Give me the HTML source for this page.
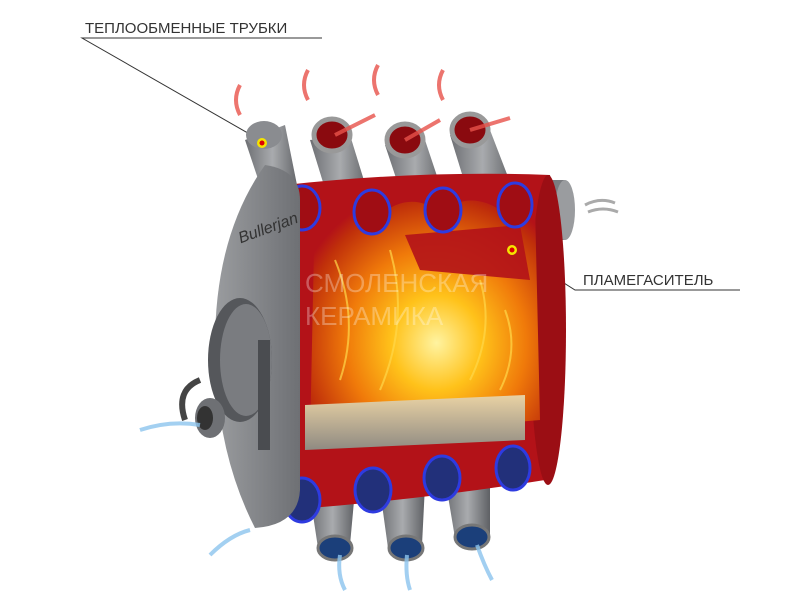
<!DOCTYPE html>
<html><head><meta charset="utf-8"><style>
html,body{margin:0;padding:0;background:#fff;}
svg{display:block}
text{font-family:"Liberation Sans",sans-serif;}
</style></head><body>
<svg width="800" height="600" viewBox="0 0 800 600" xmlns="http://www.w3.org/2000/svg">
<defs>
<linearGradient id="grey" x1="0" y1="0" x2="1" y2="0">
<stop offset="0" stop-color="#6d6f73"/><stop offset="0.5" stop-color="#a9abae"/><stop offset="1" stop-color="#5e6064"/>
</linearGradient>
<linearGradient id="plate" x1="0" y1="0" x2="1" y2="0">
<stop offset="0" stop-color="#9a9c9f"/><stop offset="1" stop-color="#6e7074"/>
</linearGradient>
<radialGradient id="fire" cx="0.55" cy="0.6" r="0.65">
<stop offset="0" stop-color="#fff3a0"/><stop offset="0.3" stop-color="#ffc21a"/><stop offset="0.6" stop-color="#f07a0a"/><stop offset="0.9" stop-color="#c0300a"/><stop offset="1" stop-color="#b31218"/>
</radialGradient>
<linearGradient id="wood" x1="0" y1="0" x2="0" y2="1">
<stop offset="0" stop-color="#e9d2a4"/><stop offset="1" stop-color="#8f8a82"/>
</linearGradient>
</defs>

<text x="85" y="33" font-size="15" fill="#333">ТЕПЛООБМЕННЫЕ ТРУБКИ</text>
<polyline points="322,38 82,38 260,140" fill="none" stroke="#333" stroke-width="1"/>
<text x="583" y="285" font-size="15" fill="#333">ПЛАМЕГАСИТЕЛЬ</text>
<polyline points="512,250 575,290 740,290" fill="none" stroke="#333" stroke-width="1"/>

<rect x="540" y="180" width="25" height="60" fill="#7a7c80"/>
<ellipse cx="565" cy="210" rx="10" ry="30" fill="#9a9c9f"/>
<path d="M585 205 q15 -8 30 -2 M588 212 q15 -6 30 0" stroke="#aaa" stroke-width="3" fill="none"/>

<g fill="url(#grey)">
<path d="M245 140 L285 125 L300 200 L270 215 Z"/>
<path d="M310 140 L350 135 L370 200 L330 205 Z"/>
<path d="M385 145 L425 140 L445 200 L405 205 Z"/>
<path d="M450 135 L490 130 L515 195 L470 200 Z"/>
</g>
<ellipse cx="264" cy="135" rx="18" ry="14" fill="#8a8c90"/>
<circle cx="262" cy="143" r="5" fill="#f5e400"/><circle cx="262" cy="143" r="2.5" fill="#d00"/>
<g stroke="#999" stroke-width="5" fill="#8a0a0f">
<ellipse cx="332" cy="135" rx="18" ry="16"/>
<ellipse cx="405" cy="140" rx="18" ry="16"/>
<ellipse cx="470" cy="130" rx="18" ry="16"/>
</g>

<g fill="url(#grey)">
<path d="M310 495 L355 490 L350 545 L318 548 Z"/>
<path d="M380 490 L425 485 L422 545 L388 548 Z"/>
<path d="M445 478 L490 472 L490 535 L455 538 Z"/>
</g>
<g fill="#1b3f7a" stroke="#777" stroke-width="3">
<ellipse cx="335" cy="548" rx="17" ry="12"/>
<ellipse cx="406" cy="548" rx="17" ry="12"/>
<ellipse cx="472" cy="537" rx="17" ry="12"/>
</g>

<path d="M285 185 Q420 170 550 175 Q575 330 545 480 Q420 500 285 510 Z" fill="#b31218"/>
<ellipse cx="548" cy="330" rx="18" ry="155" fill="#9b0e14"/>

<path d="M315 200 Q350 190 380 215 Q410 190 440 212 Q470 190 500 210 L535 205 L540 420 L310 440 Z" fill="url(#fire)"/>
<g stroke="#ffd84a" stroke-width="2" fill="none" opacity="0.7">
<path d="M340 380 q20 -60 -5 -120"/><path d="M380 390 q30 -70 10 -140"/><path d="M470 380 q25 -50 10 -100"/><path d="M500 390 q20 -40 5 -80"/>
</g>
<path d="M405 235 L520 225 L530 280 L420 270 Z" fill="#b31218" opacity="0.9"/>
<circle cx="512" cy="250" r="5" fill="#f5e400"/><circle cx="512" cy="250" r="2.5" fill="#d00"/>
<path d="M305 405 L525 395 L525 440 L305 450 Z" fill="url(#wood)"/>
<text x="305" y="292" font-size="26" fill="#fff" opacity="0.3">СМОЛЕНСКАЯ</text>
<text x="305" y="325" font-size="26" fill="#fff" opacity="0.3">КЕРАМИКА</text>

<g stroke="#2e3be0" stroke-width="3">
<g fill="#a00d14">
<ellipse cx="302" cy="208" rx="18" ry="22"/>
<ellipse cx="372" cy="212" rx="18" ry="22"/>
<ellipse cx="443" cy="210" rx="18" ry="22"/>
<ellipse cx="515" cy="205" rx="17" ry="22"/>
</g>
<g fill="#22307a">
<ellipse cx="302" cy="500" rx="18" ry="22"/>
<ellipse cx="373" cy="490" rx="18" ry="22"/>
<ellipse cx="442" cy="478" rx="18" ry="22"/>
<ellipse cx="513" cy="468" rx="17" ry="22"/>
</g>
</g>

<path d="M265 165 Q300 170 300 200 L300 490 Q298 525 255 528 Q215 450 215 345 Q215 235 265 165 Z" fill="url(#plate)"/>
<text x="240" y="240" font-size="16" font-style="italic" fill="#333" transform="rotate(-20 250 240)">Bullerjan</text>

<ellipse cx="240" cy="360" rx="32" ry="62" fill="#55575b"/>
<ellipse cx="246" cy="360" rx="26" ry="56" fill="#7a7c80"/>
<rect x="258" y="340" width="12" height="110" fill="#4a4c50"/>
<path d="M200 380 q-25 10 -15 40" stroke="#444" stroke-width="6" fill="none"/>
<ellipse cx="210" cy="418" rx="15" ry="20" fill="#6e7074"/>
<ellipse cx="205" cy="418" rx="8" ry="12" fill="#333"/>

<g stroke="#e8524a" stroke-width="4" fill="none" opacity="0.8">
<path d="M240 115 q-8 -15 0 -30"/><path d="M308 100 q-8 -15 0 -30"/>
<path d="M378 95 q-8 -15 0 -30"/><path d="M443 100 q-8 -15 0 -30"/>
<path d="M335 135 L375 115"/><path d="M405 140 L440 120"/><path d="M470 130 L510 118"/>
</g>
<g stroke="#8cc4ee" stroke-width="4" fill="none" opacity="0.8">
<path d="M140 430 q30 -10 60 -5"/><path d="M210 555 q20 -20 40 -25"/>
<path d="M345 590 q-8 -15 -5 -35"/><path d="M410 590 q-5 -15 -3 -35"/><path d="M492 580 q-8 -15 -15 -35"/>
</g>
</svg>
</body></html>
